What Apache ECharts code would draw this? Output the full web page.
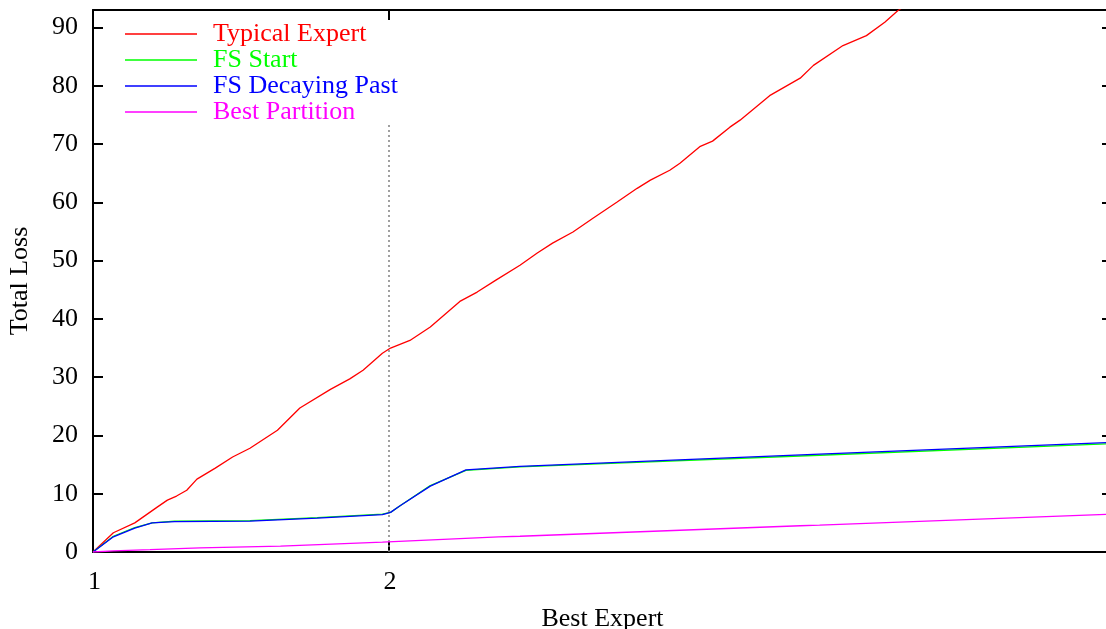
<!DOCTYPE html>
<html>
<head>
<meta charset="utf-8">
<script src="https://cdn.jsdelivr.net/npm/echarts@6/dist/echarts.min.js"></script>
<style>
html,body{margin:0;padding:0;background:#fff;}
#chart{width:1106px;height:629px;}
</style>
</head>
<body>
<div id="chart"></div>
<script>
// ---- data ----
const seriesNames = ['Typical Expert', 'FS Start', 'FS Decaying Past', 'Best Partition'];
const seriesColors = ['#ff0000', '#00ff00', '#0000ff', '#ff00ff'];

const typicalExpert = [[0,0],[20,3.3],[41,5.0],[63,7.7],[73,8.9],[82,9.6],[92,10.6],[102,12.5],[120,14.4],[137,16.3],[154,17.8],[181,20.9],[203,24.7],[233,27.9],[252,29.7],[265,31.2],[284,34.1],[292,35.0],[311,36.3],[331,38.6],[360,43.0],[377,44.6],[395,46.6],[419,49.2],[436,51.3],[451,53.0],[471,54.9],[491,57.3],[514,60.0],[534,62.4],[547,63.8],[566,65.5],[576,66.7],[596,69.6],[608,70.5],[625,72.9],[635,74.1],[664,78.3],[694,81.3],[707,83.5],[736,86.9],[759,88.6],[777,90.9],[790,92.9],[841,99.0],[1000,117.0]];
const fsStart = [[0,0],[20,2.7],[41,4.2],[58,5.0],[80,5.3],[154,5.4],[220,5.9],[284,6.5],[292,6.8],[301,7.9],[331,11.4],[366,14.0],[419,14.6],[713,16.6],[1000,18.6]];
const fsDecayingPast = [[0,0],[20,2.6],[41,4.1],[58,5.0],[80,5.2],[154,5.3],[220,5.8],[284,6.4],[292,6.8],[301,7.9],[331,11.3],[366,14.1],[419,14.7],[713,16.8],[1000,18.8]];
const bestPartition = [[0,0],[20,0.2],[56,0.4],[105,0.7],[184,1.0],[284,1.7],[398,2.6],[419,2.7],[694,4.5],[713,4.6],[1000,6.5]];

const xTickValues = [0, 290];
const xTickLabels = ['1', '2'];
const switchX = 290;
const switchLineTop = 73.5;
const yMin = 0, yMax = 93, yStep = 10;
const xMin = 0, xMax = 1000;

// ---- chart ----
const FONT = 'Liberation Serif';
const FS = 26;
const chart = echarts.init(document.getElementById('chart'), null, {renderer: 'canvas'});
const dataSets = [typicalExpert, fsStart, fsDecayingPast, bestPartition];

const series = dataSets.map((d, i) => ({
  name: seriesNames[i],
  type: 'line',
  data: d,
  showSymbol: false,
  symbol: 'none',
  clip: true,
  lineStyle: {color: seriesColors[i], width: 1.3},
  itemStyle: {color: seriesColors[i]},
  z: 3 + i
}));
series[0].markLine = {
  silent: true,
  symbol: ['none', 'none'],
  label: {show: false},
  lineStyle: {color: '#808080', type: [2, 3], width: 1.5},
  data: [[{coord: [switchX, yMin]}, {coord: [switchX, switchLineTop]}]]
};

const blackLine = {show: true, onZero: false, lineStyle: {color: '#000', width: 2}};
const tick = {show: true, inside: true, length: 10, lineStyle: {color: '#000', width: 2}};

chart.setOption({
  animation: false,
  backgroundColor: '#fff',
  textStyle: {fontFamily: FONT},
  grid: {left: 93, right: -6, top: 10, bottom: 77, containLabel: false, outerBoundsMode: 'none'},
  legend: {
    orient: 'vertical',
    left: 125,
    top: 21,
    padding: 0,
    itemWidth: 72,
    itemHeight: 1.3,
    itemGap: 0,
    icon: 'rect',
    selectedMode: false,
    textStyle: {fontFamily: FONT, fontSize: FS, lineHeight: 26, padding: [0, 0, 0, 11]},
    data: seriesNames.map((n, i) => ({name: n, textStyle: {color: seriesColors[i]}, itemStyle: {color: seriesColors[i]}}))
  },
  xAxis: [{
    type: 'value', min: xMin, max: xMax, position: 'bottom',
    name: 'Best Expert', nameLocation: 'middle', nameGap: 54,
    nameTextStyle: {fontFamily: FONT, fontSize: FS, color: '#000'},
    axisLine: blackLine,
    axisTick: Object.assign({customValues: xTickValues}, tick),
    axisLabel: {show: true, margin: 17, fontFamily: FONT, fontSize: FS, color: '#000', customValues: xTickValues,
      padding: [0, 0, 0, 3],
      formatter: v => { const k = xTickValues.indexOf(v); return k >= 0 ? xTickLabels[k] : ''; }},
    splitLine: {show: false}
  }, {
    type: 'value', min: xMin, max: xMax, position: 'top',
    axisLine: blackLine,
    axisTick: Object.assign({customValues: xTickValues}, tick),
    axisLabel: {show: false},
    splitLine: {show: false}
  }],
  yAxis: [{
    type: 'value', min: yMin, max: yMax, interval: yStep, position: 'left',
    name: 'Total Loss', nameLocation: 'middle', nameGap: 60,
    nameTextStyle: {fontFamily: FONT, fontSize: FS, color: '#000'},
    axisLine: blackLine,
    axisTick: tick,
    axisLabel: {show: true, margin: 15, fontFamily: FONT, fontSize: FS, color: '#000', showMaxLabel: false, padding: [5, 0, 0, 0]},
    splitLine: {show: false}
  }, {
    type: 'value', min: yMin, max: yMax, interval: yStep, position: 'right',
    axisLine: blackLine,
    axisTick: tick,
    axisLabel: {show: false},
    splitLine: {show: false}
  }],
  series: series
});
</script>
</body>
</html>
